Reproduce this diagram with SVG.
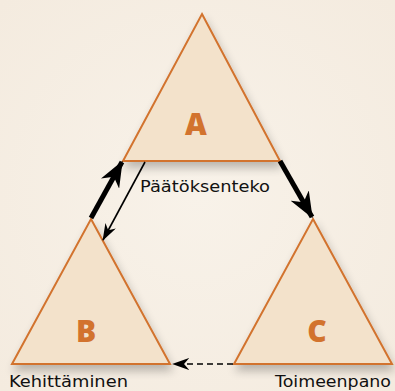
<svg xmlns="http://www.w3.org/2000/svg" width="395" height="391" viewBox="0 0 395 391">
<defs>
<radialGradient id="bg" cx="50%" cy="50%" r="70%">
<stop offset="0" stop-color="#f8f2e9"/>
<stop offset="1" stop-color="#f4ebdf"/>
</radialGradient>
<filter id="sh" x="-20%" y="-20%" width="140%" height="150%">
<feGaussianBlur in="SourceAlpha" stdDeviation="5"/>
<feOffset dx="2" dy="6" result="b"/>
<feComponentTransfer><feFuncA type="linear" slope="0.25"/></feComponentTransfer>
<feMerge><feMergeNode/><feMergeNode in="SourceGraphic"/></feMerge>
</filter>
<marker id="ah" viewBox="0 0 10 8" refX="9.5" refY="4" markerWidth="26" markerHeight="21" orient="auto" markerUnits="userSpaceOnUse">
<path d="M0,0 L10,4 L0,8 L3,4 Z" fill="#000"/>
</marker>
<marker id="ahs" viewBox="0 0 10 7" refX="9.5" refY="3.5" markerWidth="17" markerHeight="12" orient="auto" markerUnits="userSpaceOnUse">
<path d="M0,0 L10,3.5 L0,7 L3,3.5 Z" fill="#000"/>
</marker>
</defs>
<style>
.tri{fill:#f3e2cb;stroke:#d2732e;stroke-width:2;stroke-linejoin:miter}
.let{font-family:"Open Sans","DejaVu Sans",sans-serif;font-weight:800;font-size:30px;fill:#d2732e;text-anchor:middle}
.lbl{font-family:"DejaVu Sans","Noto Sans",sans-serif;font-size:15.5px;fill:#111}
.thick{stroke:#000;stroke-width:5;fill:none}
.thin{stroke:#000;stroke-width:1.6;fill:none}
</style>
<rect width="395" height="391" fill="url(#bg)"/>
<g id="A">
<polygon class="tri" points="202,14 280,161 123,161" filter="url(#sh)"/>
<text class="let" x="196" y="135">A</text>
<text class="lbl" x="140" y="192" textLength="130" lengthAdjust="spacingAndGlyphs">Päätöksenteko</text>
</g>
<g id="B">
<polygon class="tri" points="91,219 170,364 12,364" filter="url(#sh)"/>
<text class="let" x="86" y="342">B</text>
<text class="lbl" x="9" y="387" textLength="119" lengthAdjust="spacingAndGlyphs">Kehittäminen</text>
</g>
<g id="C">
<polygon class="tri" points="313,219 392,364 234,364" filter="url(#sh)"/>
<text class="let" x="317" y="342">C</text>
<text class="lbl" x="275" y="387" textLength="116" lengthAdjust="spacingAndGlyphs">Toimeenpano</text>
</g>
<g id="connectors">
<line class="thick" x1="91" y1="218" x2="122" y2="162" marker-end="url(#ah)"/>
<line class="thin" x1="145" y1="162" x2="103" y2="240" marker-end="url(#ahs)"/>
<line class="thick" x1="280" y1="161" x2="312" y2="217" marker-end="url(#ah)"/>
<line class="thin" x1="233" y1="364" x2="173" y2="364" stroke-width="2.5" stroke-dasharray="6,4" marker-end="url(#ahs)"/>
</g>
</svg>
